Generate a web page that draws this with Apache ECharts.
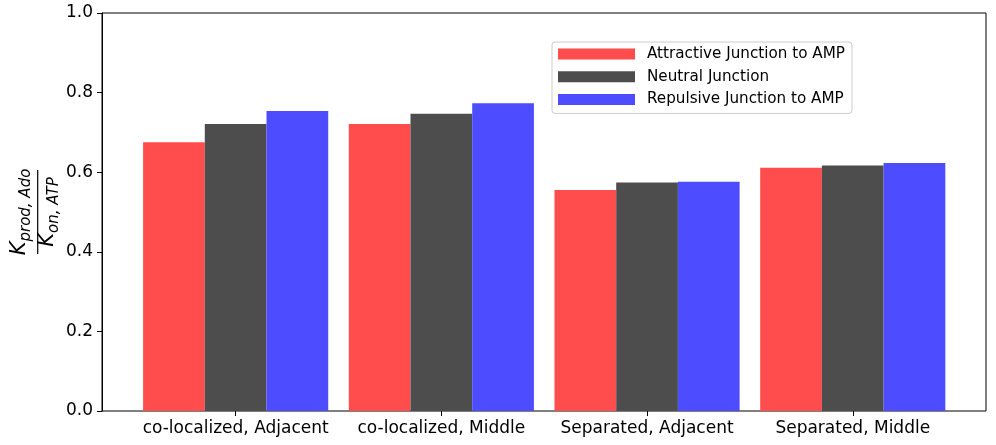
<!DOCTYPE html>
<html>
<head>
<meta charset="utf-8">
<script src="https://cdn.jsdelivr.net/npm/echarts@6/dist/echarts.min.js"></script>
<style>
  html, body { margin: 0; padding: 0; background: #fff; }
  #chart { width: 996px; height: 445px; }
</style>
</head>
<body>
<div id="chart"></div>
<script>
// Product ratio per layout, grouped by junction type
const categories = ['co-localized, Adjacent', 'co-localized, Middle', 'Separated, Adjacent', 'Separated, Middle'];
const seriesNames = ['Attractive Junction to AMP', 'Neutral Junction', 'Repulsive Junction to AMP'];
const attractive = [0.675, 0.721, 0.555, 0.611];
const neutral = [0.721, 0.747, 0.574, 0.617];
const repulsive = [0.754, 0.773, 0.576, 0.623];
const yTicks = [0, 0.2, 0.4, 0.6, 0.8, 1.0];

const colors = ['#ff4d4d', '#4d4d4d', '#4d4dff'];
const font = 'DejaVu Sans';

const chart = echarts.init(document.getElementById('chart'), null, { renderer: 'canvas' });

const values = [attractive, neutral, repulsive];

const fracRich = {
  k: { fontFamily: font, fontStyle: 'italic', fontSize: 21, lineHeight: 23, verticalAlign: 'top', fill: '#000' },
  s: { fontFamily: font, fontStyle: 'italic', fontSize: 15, lineHeight: 15, padding: [9, 0, 0, 0], verticalAlign: 'top', fill: '#000' }
};

const option = {
  animation: false,
  backgroundColor: '#fff',
  grid: [
    // outer frame + y axis
    { left: 102, right: 10, top: 13, bottom: 34, show: true, borderColor: '#000', borderWidth: 1, backgroundColor: 'transparent' },
    // bar area (categories placed inside the frame)
    { left: 132.8, right: 40.4, top: 13, bottom: 34 }
  ],
  xAxis: [
    { gridIndex: 0, type: 'value', min: 0, max: 1, show: false },
    {
      gridIndex: 1, type: 'category', data: categories,
      axisLine: { show: false },
      axisTick: { show: true, alignWithLabel: true, interval: 0, length: 5, lineStyle: { color: '#000', width: 1 } },
      axisLabel: { fontFamily: font, fontSize: 17, color: '#000', margin: 9, interval: 0 },
      splitLine: { show: false }
    }
  ],
  yAxis: [
    {
      gridIndex: 0, type: 'value', min: yTicks[0], max: yTicks[yTicks.length - 1], interval: 0.2,
      axisLine: { show: true, lineStyle: { color: '#000', width: 1 } },
      axisTick: { show: true, length: 5, lineStyle: { color: '#000', width: 1 } },
      axisLabel: { fontFamily: font, fontSize: 17, color: '#000', margin: 9, formatter: v => v.toFixed(1) },
      splitLine: { show: false }
    },
    { gridIndex: 1, type: 'value', min: 0, max: 1, show: false }
  ],
  legend: {
    orient: 'vertical',
    left: 552, top: 42,
    padding: [4, 7, 6, 6],
    itemWidth: 77, itemHeight: 11, itemGap: 6.7,
    icon: 'rect',
    borderColor: '#cccccc', borderWidth: 1, borderRadius: 3,
    backgroundColor: 'rgba(255,255,255,0.8)',
    textStyle: { fontFamily: font, fontSize: 15.2, color: '#000', lineHeight: 16, padding: [0, 0, 0, 7] },
    data: seriesNames
  },
  series: seriesNames.map((name, i) => ({
    name: name,
    type: 'bar',
    xAxisIndex: 1, yAxisIndex: 1,
    data: values[i],
    barWidth: '30%',
    barGap: '0%',
    itemStyle: { color: colors[i] }
  })),
  graphic: [
    {
      type: 'group',
      x: 37.7, y: 212,
      rotation: Math.PI / 2,
      children: [
        {
          type: 'text', x: 0, y: -17,
          style: { text: '{k|K}{s|prod, Ado}', align: 'center', verticalAlign: 'middle', fill: '#000', rich: fracRich }
        },
        {
          type: 'line',
          shape: { x1: -42, y1: 0, x2: 42, y2: 0 },
          style: { stroke: '#000', lineWidth: 1.2 }
        },
        {
          type: 'text', x: 0, y: 11,
          style: { text: '{k|K}{s|on, ATP}', align: 'center', verticalAlign: 'middle', fill: '#000', rich: fracRich }
        }
      ]
    }
  ]
};

chart.setOption(option);
</script>
</body>
</html>
